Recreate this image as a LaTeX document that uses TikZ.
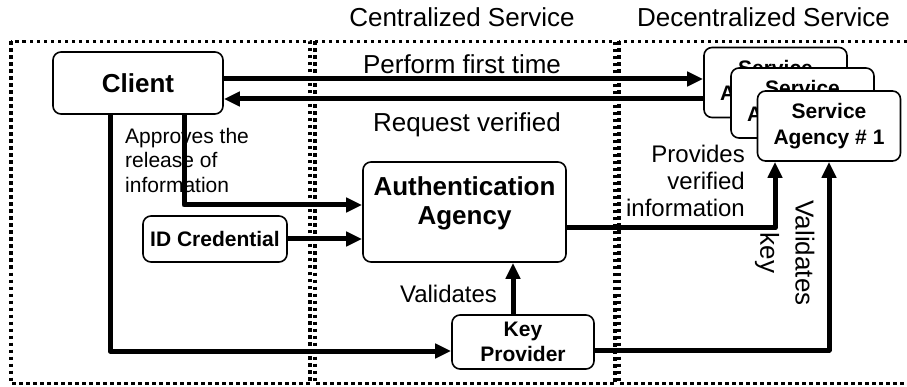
\documentclass[tikz,border=0pt]{standalone}
\usepackage{fontspec}
\setmainfont{Liberation Sans}
\usetikzlibrary{arrows.meta}

\newcommand\fbig{\fontsize{26}{29}\selectfont}
\newcommand\fmid{\fontsize{24}{27}\selectfont}
\newcommand\fsmall{\fontsize{21}{24.5}\selectfont}

\begin{document}
\begin{tikzpicture}[
  x=1pt,
  y=-1pt,
  zone/.style={line width=3.5pt, dash pattern=on 3.5pt off 3.5pt},
  box/.style={draw, rounded corners=8pt, line width=1.6pt, fill=white, align=center, inner sep=0pt, font=\fontsize{21}{25.5}\selectfont\bfseries},
  bigbox/.style={box, font=\fbig\bfseries},
  conn/.style={line width=5pt, line join=round},
  arr/.style={conn, -{Triangle[length=16pt,width=14pt]}},
  lbl/.style={inner sep=0pt, font=\fbig}
]
  \useasboundingbox (0,0) rectangle (907,387);

  % service zones
  \draw[zone] (11,41.5) rectangle (310,383.5);
  \draw[zone] (315,41.5) rectangle (615,383.5);
  \draw[zone] (619,41.5) rectangle (925,383.5);

  \node[lbl, anchor=base] (ttlcent) at (462,27) {Centralized Service};
  \node[lbl, anchor=base] (ttldec) at (763.5,27) {Decentralized Service};

  % boxes
  \node[bigbox, minimum width=170pt, minimum height=62pt] (client) at (138,83) {Client};
  \node[bigbox, minimum width=203pt, minimum height=100pt] (auth) at (464.5,212) {};
  \node[inner sep=0pt, align=center, font=\fbig\bfseries] (authtxt) at (464.5,203.5) {Authentication\\Agency};
  \node[box, minimum width=144pt, minimum height=46pt] (idcred) at (215,239) {ID Credential};
  \node[box, minimum width=142pt, minimum height=54pt] (keyprov) at (523,342) {Key\\Provider};

  \node[box, minimum width=143pt, minimum height=70pt] (sa1) at (775.5,82.5) {Service\\Agency \# 3};
  \node[box, minimum width=143pt, minimum height=70pt] (sa2) at (802.5,103) {Service\\Agency \# 2};
  \node[box, minimum width=143pt, minimum height=70pt] (sa3) at (829,126) {Service\\Agency \# 1};

  % connectors
  \draw[arr] (client.east |- 0,79) -- (sa1.west |- 0,79);
  \draw[arr] (sa1.west |- 0,99) -- (client.east |- 0,99);
  \draw[arr] (client.south -| 110,0) |- (keyprov.west |- 0,351);
  \draw[arr] (client.south -| 184,0) |- (auth.west |- 0,205);
  \draw[arr] (idcred.east) -- (auth.west |- idcred.east);
  \draw[arr] (auth.east |- 0,228) -| (sa3.south -| 775,0);
  \draw[arr] (keyprov.east |- 0,350) -| (sa3.south -| 829,0);
  \draw[arr] (keyprov.north -| 513,0) -- (auth.south -| 513,0);

  % labels
  \node[lbl, anchor=base] (lperform) at (462,74) {Perform first time};
  \node[lbl, anchor=base] (lrequest) at (467,132) {Request verified};
  \node[inner sep=0pt, font=\fsmall, align=left, anchor=north west] (lapprove) at (125,128) {Approves the\\release of\\information};
  \node[inner sep=0pt, font=\fmid, align=right, anchor=north east] (lprovide) at (745,144.5) {Provides\\verified\\information};
  \node[lbl, font=\fmid, anchor=base] (lvalid) at (448.5,302) {Validates};
  \node[lbl, rotate=-90] (lkey) at (767,253) {key};
  \node[lbl, rotate=-90] (lvalkey) at (805,253) {Validates};
\end{tikzpicture}
\end{document}
